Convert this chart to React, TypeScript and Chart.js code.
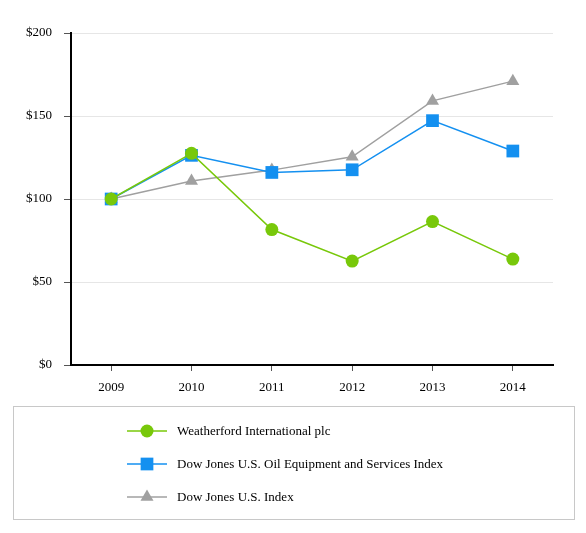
import React, { useRef, useEffect } from 'react';
import { Chart, registerables, Plugin } from 'chart.js';
import { drawPoint } from 'chart.js/helpers';

Chart.register(...registerables);

const years = ['2009', '2010', '2011', '2012', '2013', '2014'];
const weatherford = [100, 127.5, 81.6, 62.6, 86.4, 63.8];
const oilEquipment = [100, 126.3, 116.0, 117.6, 147.2, 128.9];
const dowJonesUS = [100, 110.8, 117.4, 125.4, 159.1, 171.0];

const FONT = '"Liberation Serif", "Times New Roman", serif';

// draws the boxed legend under the chart (line + marker + label per row)
const boxLegend: Plugin<'line'> = {
    id: 'boxLegend',
    afterDraw(chart) {
        const ctx = chart.ctx;
        ctx.save();
        ctx.strokeStyle = '#c8c8c8';
        ctx.lineWidth = 1;
        ctx.strokeRect(13.5, 406.5, 561, 113);

        chart.data.datasets.forEach((ds: any, i) => {
            const y = 431 + i * 33;
            ctx.strokeStyle = ds.borderColor;
            ctx.lineWidth = 1.5;
            ctx.beginPath();
            ctx.moveTo(127, y);
            ctx.lineTo(167, y);
            ctx.stroke();

            ctx.fillStyle = ds.pointBackgroundColor;
            ctx.strokeStyle = ds.pointBackgroundColor;
            drawPoint(ctx, {
                pointStyle: ds.pointStyle,
                radius: ds.pointRadius,
                rotation: 0,
                borderWidth: 0,
            }, 147, y);

            ctx.fillStyle = '#000';
            ctx.font = '13px ' + FONT;
            ctx.textBaseline = 'middle';
            ctx.textAlign = 'left';
            ctx.fillText(ds.label, 177, y + 1);
        });
        ctx.restore();
    },
};

const App: React.FC = () => {
    const chartRef = useRef<HTMLCanvasElement>(null);
    const chartInstance = useRef<Chart | null>(null);

    useEffect(() => {
        if (chartInstance.current) {
            chartInstance.current.destroy();
        }
        const ctx = chartRef.current?.getContext('2d');
        if (ctx) {
            chartInstance.current = new Chart(ctx, {
                type: 'line',
                data: {
                    labels: years,
                    datasets: [
                        {
                            label: 'Weatherford International plc',
                            data: weatherford,
                            borderColor: '#78c80a',
                            pointBackgroundColor: '#78c80a',
                            pointBorderWidth: 0,
                            pointStyle: 'circle',
                            pointRadius: 6.5,
                            borderWidth: 1.5,
                            tension: 0,
                        },
                        {
                            label: 'Dow Jones U.S. Oil Equipment and Services Index',
                            data: oilEquipment,
                            borderColor: '#1490f0',
                            pointBackgroundColor: '#1490f0',
                            pointBorderWidth: 0,
                            pointStyle: 'rect',
                            pointRadius: 9,
                            borderWidth: 1.5,
                            tension: 0,
                        },
                        {
                            label: 'Dow Jones U.S. Index',
                            data: dowJonesUS,
                            borderColor: '#a0a0a0',
                            pointBackgroundColor: '#a0a0a0',
                            pointBorderWidth: 0,
                            pointStyle: 'triangle',
                            pointRadius: 7.5,
                            borderWidth: 1.5,
                            tension: 0,
                        },
                    ],
                },
                options: {
                    responsive: false,
                    animation: false,
                    layout: {
                        padding: { top: 33, right: 33, bottom: 133, left: 0 },
                    },
                    plugins: {
                        legend: { display: false },
                        tooltip: { enabled: false },
                    },
                    scales: {
                        x: {
                            offset: true,
                            grid: {
                                offset: false,
                                drawOnChartArea: false,
                                tickLength: 6,
                                tickColor: '#555',
                            },
                            border: { color: '#000', width: 2 },
                            ticks: {
                                color: '#000',
                                font: { family: FONT, size: 13 },
                                padding: 9,
                            },
                            afterFit: (scale: any) => {
                                scale.height = 35;
                            },
                        },
                        y: {
                            min: 0,
                            max: 200,
                            grid: {
                                color: '#e6e6e6',
                                tickColor: '#555',
                                tickLength: 7,
                            },
                            border: { color: '#000', width: 2 },
                            ticks: {
                                stepSize: 50,
                                color: '#000',
                                font: { family: FONT, size: 13 },
                                padding: 12,
                                callback: (v: any) => '$' + v,
                            },
                            afterFit: (scale: any) => {
                                scale.width = 71;
                            },
                        },
                    },
                },
                plugins: [boxLegend],
            });
        }
        return () => {
            chartInstance.current?.destroy();
        };
    }, []);

    return (
        <div style={{ position: 'fixed', left: 0, top: 0, width: 586, height: 533, background: '#fff' }}>
            <canvas ref={chartRef} width={586} height={533}></canvas>
        </div>
    );
};

export default App;
